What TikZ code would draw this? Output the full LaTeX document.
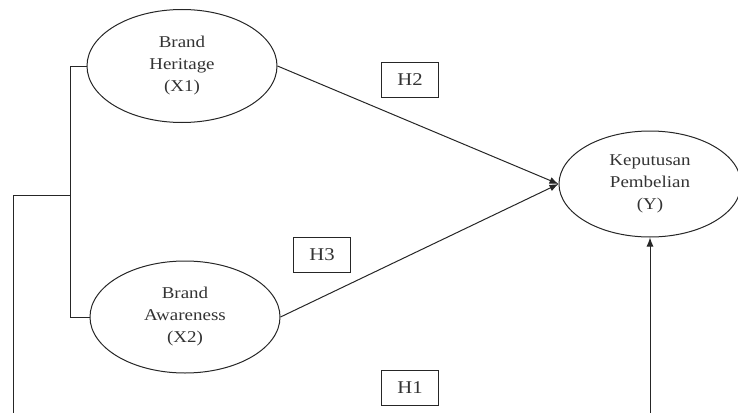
\documentclass[tikz,border=0pt]{standalone}
\usepackage{fontspec}
\setmainfont[FakeStretch=1.15]{Liberation Serif}
\usetikzlibrary{shapes.geometric,arrows.meta}
\begin{document}
\begin{tikzpicture}[x=1pt,y=-1pt,
  line width=1pt,draw=black!85,
  var/.style={draw,ellipse,align=center,inner sep=0pt,
    font=\fontsize{16.5}{22}\selectfont,text=black!80},
  hbox/.style={draw,minimum width=57pt,minimum height=35pt,inner sep=0pt,
    font=\fontsize{18}{20}\selectfont,text=black!80},
  arr/.style={-{Latex[length=9pt,width=7pt]}}]
\useasboundingbox (0,0) rectangle (738,412);
\node[var,minimum width=190pt,minimum height=113pt] (x1) at (182,66) {Brand\\Heritage\\(X1)};
\node[var,minimum width=190pt,minimum height=112pt] (x2) at (185,317) {Brand\\Awareness\\(X2)};
\node[var,minimum width=182pt,minimum height=106pt] (y) at (650,184) {Keputusan\\Pembelian\\(Y)};
\node[hbox] (h2) at (410,80) {H2};
\node[hbox] (h3) at (322,255) {H3};
\node[hbox] (h1) at (410,388) {H1};
\coordinate (bj) at (70,195);
\coordinate (bl) at (13,195);
\coordinate (b1) at (13,420);
\coordinate (b2) at (650,420);
\draw (x1.west) -- (x1.west -| bj) -- (x2.west -| bj) -- (x2.west);
\draw (bj) -- (bl) -- (b1);
\draw[arr] (x1.east) -- (y.west);
\draw[arr] (x2.east) -- (y.west);
\draw[arr] (b2) -- (y.south);
\end{tikzpicture}
\end{document}
